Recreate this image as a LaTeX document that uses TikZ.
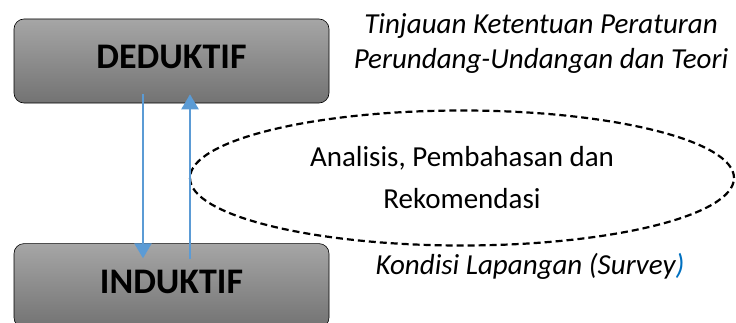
\documentclass[tikz,border=0pt]{standalone}
\usepackage{fontspec}
\setmainfont{Carlito}
\usepackage{tikz}
\usetikzlibrary {arrows.meta,
                 positioning,
                 shapes.geometric}
\definecolor{arrowblue}{HTML}{5B9BD5}
\definecolor{parenblue}{HTML}{0070C0}
\tikzset{
        proc/.style={draw, rectangle, rounded corners=10pt, line width=0.6pt,
        top color=black!35, bottom color=black!55, text depth=8pt,
        minimum width=315pt, minimum height=84pt,
        font=\fontsize{36}{40}\selectfont\bfseries},
        cloud/.style={ellipse, draw, dashed, line width=2.2pt,
                      dash pattern=on 7pt off 4pt, align=center,
                      minimum width=544pt, minimum height=135pt,
                      inner sep=0pt, %text width=20em
                      font=\fontsize{29}{42}\selectfont},
        note/.style={align=center, font=\fontsize{29}{35}\selectfont\itshape},
        myarrow/.style={-{Triangle[width=17pt,length=15pt]}, draw=arrowblue,
                        line width=2.4pt},
 }
\begin{document}
\begin{tikzpicture}[x=1pt, y=1pt]
    \useasboundingbox (0,0) rectangle (736,322);

    \node[proc] (deduktif) at (171.5,261) {DEDUKTIF};

    \node[proc, below = 140pt of deduktif] (induktif) {INDUKTIF};

    \node[cloud] (analisis) at (462,144)
    {Analisis, Pembahasan dan\\ Rekomendasi};

    \node[note] (teori) at (541,278)
    {Tinjauan Ketentuan Peraturan\\ Perundang-Undangan dan Teori};

    \node[note] (survey) at (530,56)
    {Kondisi Lapangan (Survey\textcolor{parenblue}{)}};

    \draw[myarrow] ([xshift=-28.5pt, yshift=9pt]deduktif.south)
        -- ([xshift=-28.5pt, yshift=-15pt]induktif.north);
    \draw[myarrow] ([xshift=18.5pt, yshift=-16pt]induktif.north)
        -- ([xshift=18.5pt, yshift=9pt]deduktif.south);

\end{tikzpicture}
\end{document}
